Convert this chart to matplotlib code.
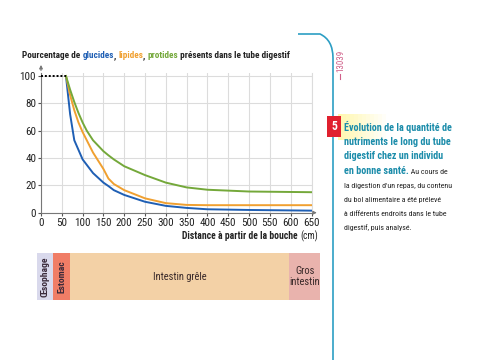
import matplotlib
matplotlib.use("Agg")
import matplotlib.pyplot as plt
from matplotlib.patches import Rectangle, PathPatch
from matplotlib.path import Path

# distance from the mouth (cm) and % of nutrient remaining
dist = [60, 70, 80, 90, 100, 110, 125, 150, 162, 175, 200, 250, 300, 350, 400, 500, 650]
glucides = [100, 72, 53, 46, 39, 35, 29, 22, 19.5, 16.5, 13, 8, 5, 3.5, 2.5, 2, 1.5]
lipides = [100, 86, 75, 66, 59, 53, 44, 32, 25, 21, 16.5, 10.5, 7, 5.7, 5.5, 5.5, 5.5]
protides = [100, 90, 81, 73, 66, 60, 53, 45, 42, 39, 34, 27.5, 22, 18.5, 16.8, 15.5, 15]

xticks = list(range(0, 651, 50))
yticks = [0, 20, 40, 60, 80, 100]

# digestive tube segments (schematic, in cm along the x scale)
seg_names = ["Œsophage", "Estomac", "Intestin grêle", "Gros\nintestin"]
seg_start = [-10, 29, 70, 596]
seg_end = [29, 70, 596, 670]
seg_colors = ["#d9d9ec", "#f07d66", "#f3d1a6", "#e9b3ad"]

BLUE = "#1f5fb4"
ORANGE = "#f0a030"
GREEN = "#74a83a"
TEAL = "#1b8caa"
INK = "#222222"

plt.rcParams["font.family"] = ["Roboto Condensed", "Liberation Sans Narrow",
                               "Liberation Sans", "DejaVu Sans"]

fig = plt.figure(figsize=(4.8, 3.6), dpi=100)
W, H = 480, 360
renderer = fig.canvas.get_renderer()


def fbox(x0, y_top, x1, y_bot):
    return [x0 / W, 1 - y_bot / H, (x1 - x0) / W, (y_bot - y_top) / H]


def chain_text(x, y, parts, size):
    """parts: list of (text, colour, weight); x, y in pixels from top-left, baseline."""
    for txt, col, wt in parts:
        t = fig.text(x / W, 1 - y / H, txt, color=col, fontsize=size,
                     fontweight=wt, va="baseline", ha="left")
        x += t.get_window_extent(renderer).width
    return x


ax = fig.add_axes(fbox(41, 73.3, 311.5, 212.7))
ax.plot(dist, glucides, color=BLUE, lw=1.4, zorder=3)
ax.plot(dist, lipides, color=ORANGE, lw=1.4, zorder=3)
ax.plot(dist, protides, color=GREEN, lw=1.4, zorder=3)
ax.plot([0, dist[0]], [100, 100], color="black", lw=1.4, ls=(0, (1, 1)), zorder=3)

ax.set_xlim(0, 650)
ax.set_ylim(0, 102)
ax.set_xticks(xticks)
ax.set_yticks(yticks)
ax.grid(color="#dcdcdc", lw=0.8)
ax.set_axisbelow(True)
ax.tick_params(labelsize=8, length=2, width=0.8, colors="#555555", labelcolor=INK, pad=1.5)
ax.spines["top"].set_visible(False)
ax.spines["right"].set_color("#dcdcdc")
ax.spines["left"].set_color("#777777")
ax.spines["bottom"].set_color("#777777")

# axis arrows
ax.annotate("", xy=(1.03, 0), xytext=(1.0, 0), xycoords="axes fraction",
            arrowprops=dict(arrowstyle="-|>", color="#777777", lw=0.8, mutation_scale=5),
            annotation_clip=False)
ax.annotate("", xy=(0, 1.08), xytext=(0, 1.0), xycoords="axes fraction",
            arrowprops=dict(arrowstyle="-|>", color="#777777", lw=0.8, mutation_scale=5),
            annotation_clip=False)

# title in several colours
chain_text(22, 58, [("Pourcentage de ", INK, "bold"), ("glucides", BLUE, "bold"),
                    (", ", INK, "bold"), ("lipides", ORANGE, "bold"), (", ", INK, "bold"),
                    ("protides", GREEN, "bold"),
                    (" présents dans le tube digestif", INK, "bold")], 6.7)

# x label, right-aligned at the end of the axis arrow
tmp = fig.text(0, 0, "Distance à partir de la bouche (cm)", fontsize=6.9)
tmp_w = tmp.get_window_extent(renderer).width
tmp.remove()
chain_text(320 - tmp_w - 4, 239, [("Distance à partir de la bouche ", INK, "bold"),
                                  ("(cm)", INK, "normal")], 6.9)

# digestive tube band
bx = fig.add_axes(fbox(37, 253, 320, 300))
bx.set_xlim(-10, 670)
bx.set_ylim(0, 1)
bx.axis("off")
for name, a, b, c in zip(seg_names, seg_start, seg_end, seg_colors):
    bx.add_patch(Rectangle((a, 0), b - a, 1, color=c, lw=0))
    if b - a < 60:
        bx.text((a + b) / 2, 0.5, name, rotation=90, ha="center", va="center",
                fontsize=6.8, fontweight="bold", color="#3a2a3a")
    else:
        bx.text((a + b) / 2, 0.5, name, ha="center", va="center", fontsize=7.6,
                color="#3a2a2a", linespacing=1.1)

# right decoration: blue rule with rounded top
deco = fig.add_axes([0, 0, 1, 1])
deco.set_xlim(0, W)
deco.set_ylim(H, 0)
deco.axis("off")
verts = [(298, 34), (320, 34), (333, 40), (333, 58), (333, 360)]
codes = [Path.MOVETO, Path.LINETO, Path.CURVE3, Path.CURVE3, Path.LINETO]
deco.add_patch(PathPatch(Path(verts, codes), fill=False, ec="#2c9ec4", lw=1.2))
deco.plot([340, 340], [74, 79], color="#d0608a", lw=0.8)
deco.text(341, 61, "13039", rotation=90, ha="center", va="center", fontsize=6.5,
          color="#d0608a")

# yellow glow and red number
for i in range(12):
    deco.add_patch(Rectangle((338 + i * 4, 114), 4, 26, color="#fff27a",
                             alpha=0.6 * (1 - i / 12), lw=0))
deco.add_patch(Rectangle((327, 116), 14, 21, color="#e0202e", lw=0))
deco.text(334, 127, "5", color="white", fontsize=8.5, fontweight="bold",
          ha="center", va="center")

heading = ["Évolution de la quantité de", "nutriments le long du tube",
           "digestif chez un individu", "en bonne santé."]
body_first = " Au cours de"
body = ["la digestion d'un repas, du contenu", "du bol alimentaire a été prélevé",
        "à différents endroits dans le tube", "digestif, puis analysé."]
y = 131
for i, line in enumerate(heading):
    if i == len(heading) - 1:
        chain_text(344, y, [(line, TEAL, "bold"), ("", TEAL, "bold")], 7.3)
        tw = fig.texts[-2].get_window_extent(renderer).width
        fig.text((344 + tw) / W, 1 - y / H, body_first, color=INK, fontsize=5.7,
                 va="baseline", ha="left")
    else:
        fig.text(344 / W, 1 - y / H, line, color=TEAL, fontsize=7.3,
                 fontweight="bold", va="baseline", ha="left")
    y += 14.2
for line in body:
    fig.text(344 / W, 1 - y / H, line, color=INK, fontsize=5.7, va="baseline", ha="left")
    y += 14.2

fig.savefig("out.png", dpi=100, facecolor="white")
